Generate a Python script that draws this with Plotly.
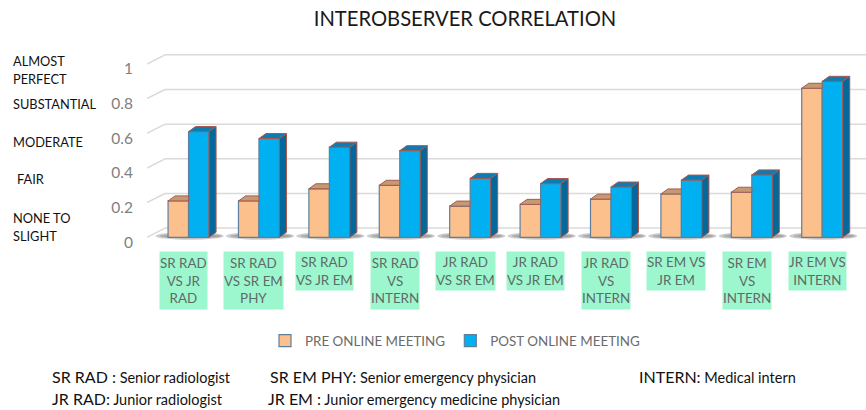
import plotly.graph_objects as go

categories = ["SR RAD<br>VS JR<br>RAD", "SR RAD<br>VS SR EM<br>PHY", "SR RAD<br>VS JR EM", "SR RAD<br>VS<br>INTERN",
              "JR RAD<br>VS SR EM", "JR RAD<br>VS JR EM", "JR RAD<br>VS<br>INTERN", "SR EM VS<br>JR EM",
              "SR EM<br>VS<br>INTERN", "JR EM VS<br>INTERN"]
pre_meeting = [0.21, 0.21, 0.28, 0.30, 0.18, 0.19, 0.22, 0.25, 0.26, 0.86]
post_meeting = [0.61, 0.57, 0.52, 0.50, 0.34, 0.31, 0.29, 0.33, 0.36, 0.90]
y_ticks = [0, 0.2, 0.4, 0.6, 0.8, 1]
positions = list(range(len(categories)))

# pseudo-3D geometry, in axis units
BAR = 0.291
DX, DY = 0.1, 0.029          # depth of a bar
WALL_DX, WALL_DY = 0.256, 0.053  # depth of the chart wall
X_MIN, X_MAX = -0.59, 9.622

PRE, POST = "#FBC08C", "#00B0F0"
EDGE, RED = "#5F7F9E", "#A9584E"
FONT = "Lato"
L, R, T, B = 147, 0, 40, 165
W, H = 866, 410


def px(x):
    return (x - L) / (W - L - R)


def py(y):
    return 1 - (y - T) / (H - T - B)


def polys(faces):
    xs, ys = [], []
    for f in faces:
        for x, y in f:
            xs.append(x)
            ys.append(y)
        xs.append(f[0][0])
        ys.append(f[0][1])
        xs.append(None)
        ys.append(None)
    return xs, ys


def face_trace(faces, color):
    xs, ys = polys(faces)
    return go.Scatter(x=xs, y=ys, mode="lines", fill="toself", fillcolor=color,
                      line=dict(color=RED, width=1), showlegend=False, hoverinfo="skip")


fig = go.Figure()
fig.add_bar(x=positions, y=pre_meeting, name="PRE ONLINE MEETING", marker=dict(color=PRE, line=dict(color=EDGE, width=1.2)))
fig.add_bar(x=positions, y=post_meeting, name="POST ONLINE MEETING", marker=dict(color=POST, line=dict(color=EDGE, width=1.2)))

pre_tops = [[(i - BAR, v), (i - BAR + DX, v + DY), (i, v + DY), (i, v)] for i, v in zip(positions, pre_meeting)]
post_tops = [[(i, v), (i + DX, v + DY), (i + BAR + DX, v + DY), (i + BAR, v)] for i, v in zip(positions, post_meeting)]
post_sides = [[(i + BAR, 0), (i + BAR + DX, DY), (i + BAR + DX, v + DY), (i + BAR, v)] for i, v in zip(positions, post_meeting)]
fig.add_trace(face_trace(pre_tops, "#C49A73"))
fig.add_trace(face_trace(post_tops, "#0B7DB4"))
fig.add_trace(face_trace(post_sides, "#05689A"))

shapes = []
for t in y_ticks:
    shapes.append(dict(type="line", layer="below", x0=X_MIN, y0=t, x1=X_MIN + WALL_DX, y1=t + WALL_DY,
                       line=dict(color="#DADADA", width=1.5)))
    shapes.append(dict(type="line", layer="below", x0=X_MIN + WALL_DX, y0=t + WALL_DY, x1=X_MAX, y1=t + WALL_DY,
                       line=dict(color="#DADADA", width=1.5)))
for i in positions:
    for grow, alpha in ((0.0, 0.3), (0.06, 0.25), (0.12, 0.2)):
        shapes.append(dict(type="circle", layer="below", x0=i - 0.47 + grow, x1=i + 0.5 - grow / 2,
                           y0=-0.014 + grow / 8, y1=0.03 - grow / 8,
                           fillcolor=f"rgba(90,90,90,{alpha})", line=dict(width=0)))

annotations = []
for i, cat in zip(positions, categories):
    annotations.append(dict(x=i, y=py(251), xref="x", yref="paper", xanchor="center", yanchor="top", xshift=-5,
                            text=cat, showarrow=False, align="center", valign="middle", bgcolor="#9DF7CE", borderpad=0,
                            height=19 * (cat.count("<br>") + 1),
                            font=dict(family=FONT, size=13.4, color="#5F6B68")))


def note(text, x, y, size=13.5, color="#111111"):
    annotations.append(dict(x=px(x - 2), y=py(y), xref="paper", yref="paper", xanchor="left", yanchor="middle",
                            text=text, showarrow=False, align="left", font=dict(family=FONT, size=size, color=color)))


for text, x, y in [("ALMOST", 13, 61), ("PERFECT", 13, 79), ("SUBSTANTIAL", 13, 104), ("MODERATE", 13, 142),
                   ("FAIR", 17, 179), ("NONE TO", 13, 218), ("SLIGHT", 13, 236)]:
    note(text, x, y, 12.8)


def key(abbr, desc, x, y):
    note(f"<span style='font-size:16px'>{abbr}</span> {desc}", x, y, 14.5)


key("SR RAD :", "Senior radiologist", 52, 376)
key("JR RAD:", "Junior radiologist", 52, 398)
key("SR EM PHY:", "Senior emergency physician", 270, 376)
key("JR EM :", "Junior emergency medicine physician", 268, 398)
key("INTERN:", "Medical intern", 639, 376)

fig.update_layout(
    width=W, height=H, autosize=False,
    margin=dict(l=L, r=R, t=T, b=B, pad=0),
    paper_bgcolor="white", plot_bgcolor="white",
    barmode="group", bargap=0.418, bargroupgap=0,
    title=dict(text="INTEROBSERVER CORRELATION", x=465 / W, xanchor="center", y=1 - 19 / H, yanchor="middle",
               font=dict(family=FONT, size=20.2, color="#1A1A1A")),
    xaxis=dict(range=[X_MIN, X_MAX], showgrid=False, zeroline=False, showticklabels=False, ticks="", showline=False),
    yaxis=dict(range=[-0.0444, 1.1385], tickvals=y_ticks, ticktext=["0", "0.2", "0.4", "0.6", "0.8", "1"],
               showgrid=False, zeroline=False, showline=False, ticks="", ticklabelstandoff=13, ticklabelshift=5,
               tickfont=dict(family=FONT, size=15.5, color="#7F7F7F")),
    legend=dict(orientation="h", x=px(265), xanchor="left", y=py(341), yanchor="middle",
                font=dict(family=FONT, size=13.4, color="#6B6B6B"), traceorder="normal", itemwidth=30),
    shapes=shapes, annotations=annotations, hovermode=False,
)
fig.write_html("out.html", post_script="document.body.style.margin='0';", config={"displayModeBar": False})
